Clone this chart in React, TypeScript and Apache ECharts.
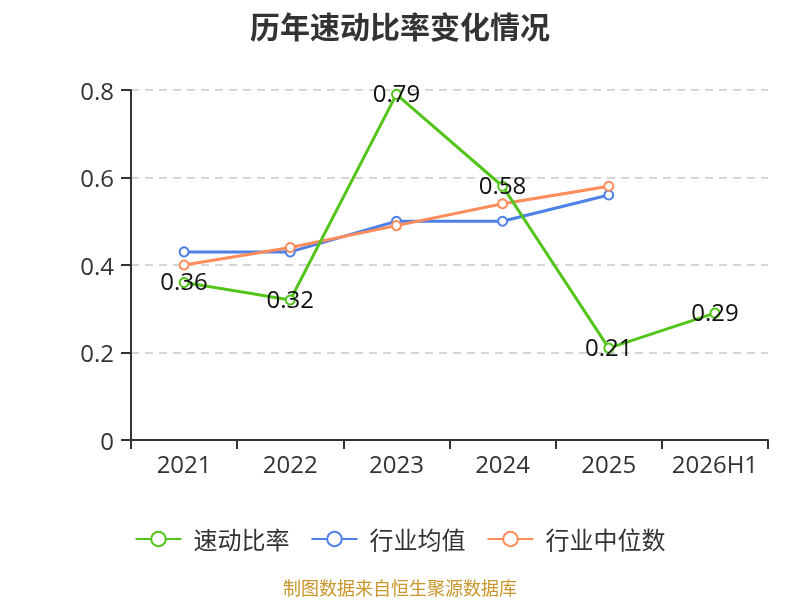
import React, { useEffect, useRef } from "react";
import * as echarts from "echarts";

const categories = ["2021", "2022", "2023", "2024", "2025", "2026H1"];
const quickRatio = [0.36, 0.32, 0.79, 0.58, 0.21, 0.29];
const industryAvg = [0.43, 0.43, 0.5, 0.5, 0.56];
const industryMedian = [0.4, 0.44, 0.49, 0.54, 0.58];
const yTicks = [0, 0.2, 0.4, 0.6, 0.8];

const FONT = "'Open Sans', 'Noto Sans CJK SC', sans-serif";

export default function App() {
  const ref = useRef<HTMLDivElement>(null);
  useEffect(() => {
    if (!ref.current) return;
    const chart = echarts.init(ref.current, undefined, { renderer: "svg" });
    const mkSeries = (name: string, data: number[], color: string, label: boolean) => ({
      name,
      type: "line",
      data,
      symbol: "emptyCircle",
      symbolSize: 9,
      lineStyle: { width: 3, color },
      itemStyle: { color, borderWidth: 2 },
      label: label
        ? {
            show: true,
            position: "inside",
            offset: [0, -2],
            color: "#111",
            fontSize: 24,
            fontFamily: FONT,
          }
        : { show: false },
      z: label ? 3 : 2,
    });
    chart.setOption({
      animation: false,
      title: {
        text: "历年速动比率变化情况",
        left: "center",
        top: 5,
        textStyle: { fontSize: 30, fontWeight: "bold", color: "#333", fontFamily: "'Noto Sans CJK SC', sans-serif" },
      },
      grid: { left: 131, right: 32, top: 90, bottom: 160, containLabel: false },
      legend: {
        top: 522,
        left: "center",
        itemWidth: 46,
        itemHeight: 18,
        itemGap: 21,
        textStyle: { fontSize: 24, color: "#333", fontFamily: FONT, padding: [0, 0, 0, 7] },
        data: ["速动比率", "行业均值", "行业中位数"],
      },
      xAxis: {
        type: "category",
        data: categories,
        boundaryGap: true,
        axisLine: { lineStyle: { color: "#333", width: 2 } },
        axisTick: { show: true, interval: 0, alignWithLabel: false, length: 9, lineStyle: { color: "#333", width: 2 } },
        axisLabel: { interval: 0, hideOverlap: false, fontSize: 24, color: "#333", margin: 11, fontFamily: FONT },
      },
      yAxis: {
        type: "value",
        min: 0,
        max: 0.8,
        interval: 0.2,
        axisLine: { show: true, lineStyle: { color: "#333", width: 2 } },
        axisTick: { show: true, length: 10, lineStyle: { color: "#333", width: 2 } },
        axisLabel: {
          fontSize: 24,
          color: "#333",
          margin: 17,
          fontFamily: FONT,
          formatter: (v: number) => {
            const t = yTicks.find((x) => Math.abs(x - v) < 1e-9);
            return t === 0 ? "0" : String(t ?? v);
          },
        },
        splitLine: { show: true, lineStyle: { type: [8, 6], color: "#c8c8c8", width: 1.5 } },
      },
      series: [
        mkSeries("速动比率", quickRatio, "#52c41a", true),
        mkSeries("行业均值", industryAvg, "#4f80e6", false),
        mkSeries("行业中位数", industryMedian, "#ff8c5a", false),
      ],
      graphic: [
        {
          type: "text",
          left: "center",
          top: 578,
          style: { text: "制图数据来自恒生聚源数据库", fontSize: 18, fill: "#c9962b", fontFamily: "'Noto Sans CJK SC', sans-serif" },
        },
      ],
    });
    return () => chart.dispose();
  }, []);
  return (
    <div
      ref={ref}
      style={{ position: "fixed", left: 0, top: 0, width: 800, height: 600, overflow: "hidden" }}
    />
  );
}
